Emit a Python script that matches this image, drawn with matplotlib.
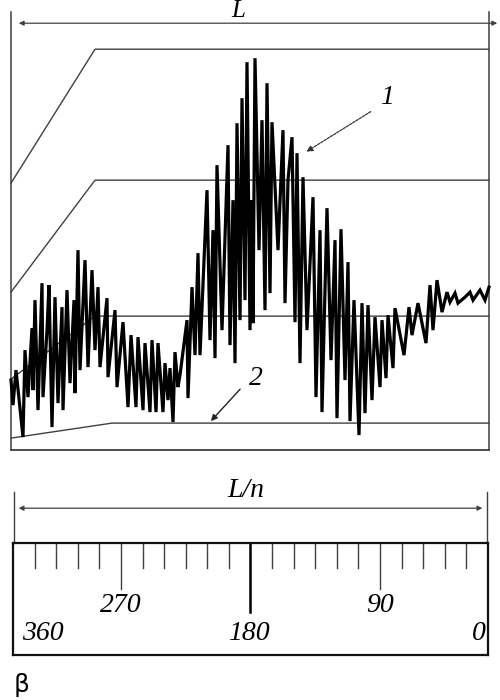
import matplotlib.pyplot as plt

# signal 1: distance along L (x) and amplitude (y)
sig_x = [0, 2, 5, 12, 14, 17, 21, 22, 24, 27, 31, 32, 36, 38, 41, 44, 47, 51, 52, 56,
         59, 63, 64, 67, 69, 74, 77, 81, 84, 87, 89, 96, 97, 104, 106, 112, 117, 120, 125, 127,
         132, 134, 139, 141, 145, 147, 152, 154, 157, 159, 162, 164, 167, 169, 176, 177, 181, 184, 187, 189,
         196, 199, 202, 204, 206, 211, 217, 219, 222, 224, 226, 229, 231, 234, 236, 239, 241, 242, 244, 248,
         251, 254, 256, 259, 261, 267, 272, 274, 277, 281, 284, 286, 289, 292, 296, 302, 305, 309, 311, 316,
         320, 324, 326, 330, 334, 337, 339, 343, 348, 351, 354, 357, 361, 364, 369, 371, 375, 377, 382, 384,
         393, 398, 401, 407, 415, 419, 422, 426, 431, 436, 439, 444, 447, 454, 459, 462, 469, 474, 478]
sig_y = [70, 45, 80, 13, 100, 53, 122, 60, 150, 40, 167, 53, 120, 165, 23, 153, 47, 143, 40, 160,
         67, 150, 57, 200, 80, 190, 83, 180, 100, 163, 83, 152, 73, 140, 63, 128, 43, 115, 43, 113,
         40, 107, 38, 110, 38, 107, 38, 87, 50, 82, 28, 98, 63, 75, 130, 52, 163, 95, 197, 95,
         260, 110, 220, 92, 285, 120, 305, 105, 250, 87, 327, 130, 352, 150, 388, 120, 250, 127, 392, 200,
         330, 140, 367, 157, 328, 200, 320, 147, 270, 313, 128, 297, 87, 273, 120, 253, 53, 220, 38, 242,
         90, 210, 32, 221, 70, 188, 29, 150, 15, 147, 37, 145, 50, 133, 63, 130, 72, 135, 82, 142,
         95, 143, 115, 147, 107, 165, 120, 170, 138, 158, 148, 157, 147, 153, 158, 150, 160, 150, 163]

# reference levels (broken lines), signal 2 is the lowest one
lvl_x = [0, 84, 478]
lvl_top = [267, 401, 401]
lvl_2 = [158, 270, 270]
lvl_3 = [71, 134, 134]
lvl_x4 = [0, 101, 478]
lvl_4 = [12, 27, 27]

# beta scale
tick_beta = list(range(330, 15, -15))
major_beta = [270, 90]
scale_labels_hi = ['270', '90']
scale_labels_lo = ['360', '180', '0']

fig = plt.figure(figsize=(5, 7), dpi=100)
grey = '#404040'
serif = dict(family='Liberation Serif', style='italic')

ax = fig.add_axes([0.022, 0.357, 0.956, 0.627])
ax.set_xlim(0, 478)
ax.set_ylim(0, 439)
ax.axis('off')

# frame
ax.plot([0, 0], [0, 438], color=grey, lw=1.1, clip_on=False)
ax.plot([478, 478], [0, 438], color=grey, lw=1.1, clip_on=False)
ax.plot([0, 478], [0, 0], color=grey, lw=1.3, clip_on=False)

for ys in (lvl_top, lvl_2, lvl_3):
    ax.plot(lvl_x, ys, color=grey, lw=1.0, clip_on=False)
ax.plot(lvl_x4, lvl_4, color=grey, lw=1.0, clip_on=False)

ax.plot(sig_x, sig_y, color='black', lw=2.3, solid_joinstyle='miter', clip_on=False)

ax.annotate('', xy=(5, 427), xytext=(489, 427), annotation_clip=False,
            arrowprops=dict(arrowstyle='<|-|>', lw=0.9, color=grey, mutation_scale=7))
ax.text(227, 433, 'L', ha='center', va='baseline', fontsize=18, **serif)

ax.text(376, 353, '1', ha='center', va='center', fontsize=20, **serif)
ax.annotate('', xy=(293, 297), xytext=(362, 340),
            arrowprops=dict(arrowstyle='-|>', lw=0.9, ls=(0, (2, 1)), color='#333333', mutation_scale=9))
ax.text(245, 72, '2', ha='center', va='center', fontsize=20, **serif)
ax.annotate('', xy=(198, 27), xytext=(231, 63),
            arrowprops=dict(arrowstyle='-|>', lw=1.0, color='#222222', mutation_scale=9))

# scale of beta
ax2 = fig.add_axes([0.026, 0.064, 0.95, 0.16])
ax2.set_xlim(345, 15)
ax2.set_ylim(0, 1)
ax2.set_xticks([])
ax2.set_yticks([])
for s in ax2.spines.values():
    s.set_linewidth(1.6)
    s.set_color('#111111')

for b in tick_beta:
    if b == 180:
        ax2.plot([b, b], [1, 0.384], color='black', lw=1.8)
    elif b in major_beta:
        ax2.plot([b, b], [1, 0.59], color=grey, lw=1.0)
    else:
        ax2.plot([b, b], [1, 0.777], color=grey, lw=1.0)

for b, t in zip(major_beta, scale_labels_hi):
    ax2.text(b, 0.44, t, ha='center', va='center', fontsize=20, **serif)
ax2.text(339, 0.196, scale_labels_lo[0], ha='left', va='center', fontsize=20, **serif)
ax2.text(181, 0.196, scale_labels_lo[1], ha='center', va='center', fontsize=20, **serif)
ax2.text(16.5, 0.196, scale_labels_lo[2], ha='right', va='center', fontsize=20, **serif)

ax2.plot([344, 344], [1, 1.455], color=grey, lw=1.0, clip_on=False)
ax2.plot([16, 16], [1, 1.455], color=grey, lw=1.0, clip_on=False)
ax2.annotate('', xy=(343, 1.3125), xytext=(17, 1.3125), annotation_clip=False,
             arrowprops=dict(arrowstyle='<|-|>', lw=0.9, color=grey, mutation_scale=7))
ax2.text(183, 1.41, 'L/n', ha='center', va='baseline', fontsize=20, **serif)

fig.text(0.028, 1 - 685 / 700, 'β', ha='left', va='center', fontsize=18, family='DejaVu Sans')

fig.savefig('out.png', dpi=100)
